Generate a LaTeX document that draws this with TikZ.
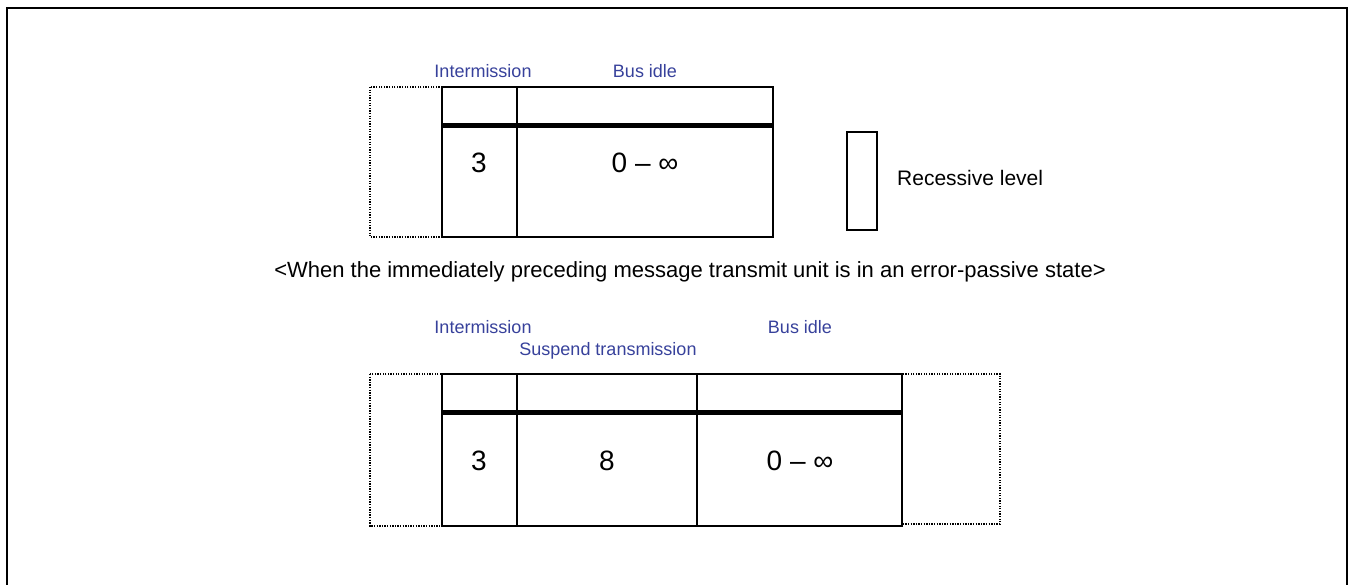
\documentclass[tikz,border=0pt]{standalone}
\usepackage{fontspec}
\setmainfont{Liberation Sans}
\definecolor{lblblue}{RGB}{55,65,155}

\begin{document}
\begin{tikzpicture}[x=1pt,y=-1pt,
  lbl/.style={text=lblblue,font=\fontsize{18}{21}\selectfont,inner sep=0pt},
  num/.style={font=\fontsize{28}{31}\selectfont,inner sep=0pt},
  txt/.style={font=\fontsize{21}{24}\selectfont,inner sep=0pt},
  cell/.style={draw,line width=1.6pt},
  idlebox/.style={draw,line width=1.3pt,dash pattern=on 1.3pt off 1.3pt},
  level/.style={line width=5pt}]
  \useasboundingbox (0,0) rectangle (1351,585);
  \draw[line width=2.2pt] (7,585) |- (1347,8) -- (1347,585);

  % upper frame end
  \draw[idlebox] (370,87) rectangle (442,237);
  \draw[cell] (442,87) rectangle (773,237);
  \draw[cell] (517,87) -- (517,237);
  \draw[level] (442,126) -- (773,126);
  \node[lbl] (imtop)   at (483,71)  {Intermission};
  \node[lbl] (idletop) at (645,71)  {Bus idle};
  \node[num] (imnum)   at (479,163) {3};
  \node[num] (idlenum) at (645,163) {0 – ∞};

  % legend
  \draw[cell] (847,132) rectangle (877,230);
  \node[txt,anchor=west] (reclbl) at (897,178) {Recessive level};

  \node[txt,font=\fontsize{22}{25}\selectfont] (cond) at (690,272)
    {<When the immediately preceding message transmit unit is in an error-passive state>};

  % lower frame end
  \draw[idlebox] (370,374) rectangle (442,526);
  \draw[idlebox] (902,374) rectangle (1000,524);
  \draw[cell] (442,374) rectangle (902,526);
  \draw[cell] (517,374) -- (517,526);
  \draw[cell,line width=2.6pt] (697,374) -- (697,526);
  \draw[level] (442,412) -- (902,412);
  \node[lbl] (imbot)   at (483,327) {Intermission};
  \node[lbl] (idlebot) at (800,327) {Bus idle};
  \node[lbl] (susp)    at (608,351) {Suspend transmission};
  \node[num] (imnum2)   at (479,461) {3};
  \node[num] (suspnum)  at (607,461) {8};
  \node[num] (idlenum2) at (800,461) {0 – ∞};
\end{tikzpicture}
\end{document}
